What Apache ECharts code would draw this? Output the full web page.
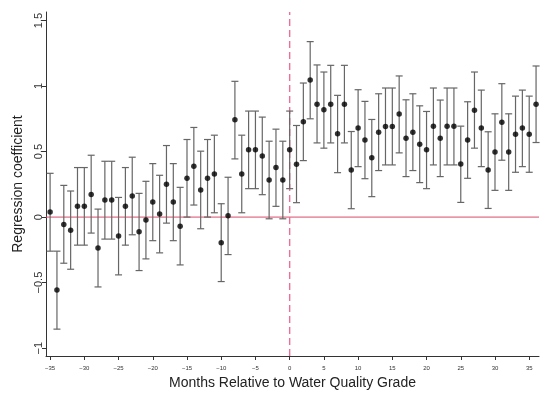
<!DOCTYPE html>
<html>
<head>
<meta charset="utf-8">
<script src="https://cdn.jsdelivr.net/npm/echarts@6/dist/echarts.min.js"></script>
<style>html,body{margin:0;padding:0;background:#fff;}#c{width:550px;height:399px;}</style>
</head>
<body>
<div id="c"></div>
<script>
const months = [];
for (let m = -35; m <= 36; m++) months.push(m);
const coef = [0.038,-0.556,-0.056,-0.10,0.082,0.082,0.173,-0.235,0.13,0.13,-0.145,0.082,0.161,-0.112,-0.023,0.115,0.023,0.25,0.115,-0.069,0.296,0.388,0.207,0.296,0.329,-0.196,0.010,0.742,0.329,0.513,0.513,0.467,0.283,0.378,0.283,0.513,0.403,0.727,1.046,0.862,0.819,0.862,0.635,0.862,0.36,0.679,0.589,0.452,0.648,0.691,0.691,0.786,0.602,0.648,0.556,0.513,0.694,0.602,0.694,0.694,0.406,0.589,0.816,0.679,0.36,0.497,0.724,0.497,0.633,0.679,0.633,0.862];
const upper = [0.334,-0.26,0.242,0.199,0.378,0.378,0.472,0.061,0.426,0.426,0.15,0.378,0.457,0.181,0.273,0.408,0.319,0.546,0.408,0.227,0.592,0.684,0.503,0.592,0.625,0.102,0.304,1.036,0.625,0.809,0.809,0.763,0.579,0.671,0.579,0.809,0.699,1.023,1.339,1.161,1.107,1.158,0.929,1.158,0.653,0.972,0.883,0.745,0.941,0.985,0.985,1.077,0.895,0.941,0.849,0.806,0.985,0.893,0.985,0.985,0.694,0.880,1.107,0.969,0.651,0.788,1.018,0.788,0.923,0.969,0.923,1.153];
const lower = [-0.26,-0.855,-0.352,-0.398,-0.214,-0.214,-0.122,-0.533,-0.168,-0.168,-0.441,-0.214,-0.135,-0.408,-0.319,-0.18,-0.273,-0.046,-0.18,-0.365,0.0,0.092,-0.089,0.0,0.033,-0.492,-0.286,0.444,0.033,0.217,0.217,0.171,-0.013,0.082,-0.013,0.217,0.11,0.431,0.75,0.566,0.526,0.566,0.339,0.566,0.064,0.385,0.293,0.156,0.355,0.398,0.398,0.49,0.309,0.355,0.263,0.217,0.398,0.309,0.398,0.398,0.112,0.296,0.526,0.385,0.066,0.204,0.434,0.204,0.342,0.385,0.342,0.569];
const xTicks = [-35,-30,-25,-20,-15,-10,-5,0,5,10,15,20,25,30,35];
const yTicks = [-1,-0.5,0,0.5,1,1.5];
const xRange = [-35.6, 36.43];
const yRange = [-1.06, 1.565];

const fmt = v => String(v).replace('-', '\u2212');
const chart = echarts.init(document.getElementById('c'), null, {renderer: 'canvas'});
chart.setOption({
  animation: false,
  backgroundColor: '#fff',
  grid: {left: 46, right: 11, top: 12, bottom: 43, containLabel: false, outerBoundsMode: 'none'},
  xAxis: {
    type: 'value', min: xRange[0], max: xRange[1],
    name: 'Months Relative to Water Quality Grade', nameLocation: 'middle', nameGap: 18,
    nameTextStyle: {fontFamily: 'Liberation Sans', fontSize: 14, color: '#222'},
    splitLine: {show: false},
    axisLine: {show: true, onZero: false, lineStyle: {color: '#333', width: 1}},
    axisTick: {show: true, length: 4, lineStyle: {color: '#333'}, customValues: xTicks},
    axisLabel: {fontFamily: 'Liberation Sans', fontSize: 6, color: '#333', margin: 9, customValues: xTicks, formatter: fmt}
  },
  yAxis: {
    type: 'value', min: yRange[0], max: yRange[1],
    name: 'Regression coefficient', nameLocation: 'middle', nameGap: 21,
    nameTextStyle: {fontFamily: 'Liberation Sans', fontSize: 14, color: '#222'},
    splitLine: {show: false},
    axisLine: {show: true, onZero: false, lineStyle: {color: '#333', width: 1}},
    axisTick: {show: true, length: 4, lineStyle: {color: '#333'}, customValues: yTicks},
    axisLabel: {fontFamily: 'Liberation Sans', fontSize: 11, color: '#333', rotate: 90, margin: 2, customValues: yTicks, formatter: fmt}
  },
  series: [
    {
      type: 'line',
      data: [[xRange[0], 0], [xRange[1], 0]],
      symbol: 'none', silent: true,
      lineStyle: {color: '#d94c6a', width: 1},
      z: 1
    },
    {
      type: 'line',
      data: [[0, yRange[0]], [0, yRange[1]]],
      symbol: 'none', silent: true,
      lineStyle: {color: '#ec6f98', width: 1.4, type: [7, 4]},
      z: 1
    },
    {
      type: 'custom',
      data: months.map((m, i) => [m, lower[i], upper[i]]),
      renderItem: function (params, api) {
        const x = api.value(0);
        const lo = api.coord([x, api.value(1)]);
        const hi = api.coord([x, api.value(2)]);
        const w = 3.5;
        const st = {stroke: '#666', lineWidth: 1.2};
        return {type: 'group', children: [
          {type: 'line', shape: {x1: lo[0], y1: lo[1], x2: hi[0], y2: hi[1]}, style: st},
          {type: 'line', shape: {x1: lo[0]-w, y1: lo[1], x2: lo[0]+w, y2: lo[1]}, style: st},
          {type: 'line', shape: {x1: hi[0]-w, y1: hi[1], x2: hi[0]+w, y2: hi[1]}, style: st}
        ]};
      },
      z: 3
    },
    {
      type: 'scatter',
      data: months.map((m, i) => [m, coef[i]]),
      symbol: 'circle', symbolSize: 5.5,
      itemStyle: {color: '#000'},
      z: 4
    }
  ]
});
</script>
</body>
</html>
